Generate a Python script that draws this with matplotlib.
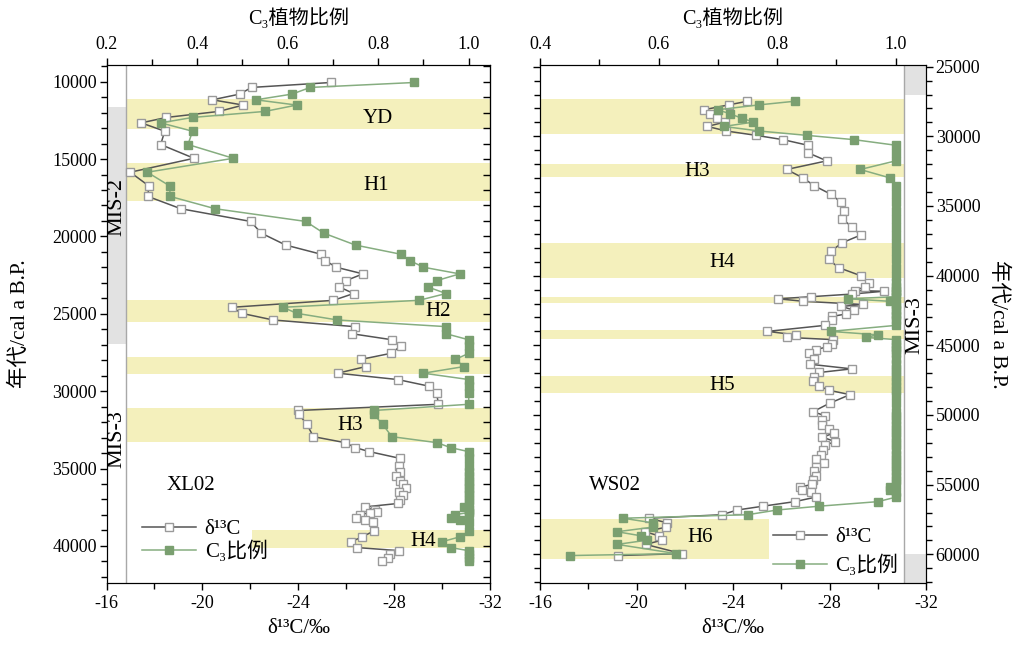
import matplotlib
matplotlib.use('Agg')
import matplotlib.pyplot as plt
from matplotlib.ticker import MultipleLocator

plt.rcParams['font.family'] = ['Liberation Serif', 'DejaVu Serif', 'Noto Sans CJK SC']
plt.rcParams['axes.unicode_minus'] = False

# ---------------- XL02 ----------------
xl_age = [10050, 10370, 10800, 11170, 11510, 11920, 12310, 12660, 13200, 14060,
          14950, 15850, 16740, 17410, 18210, 19030, 19790, 20560, 21150, 21560,
          21990, 22420, 22850, 23270, 23690, 24130, 24580, 24970, 25400, 25830,
          26290, 26680, 27110, 27560, 27950, 28410, 28840, 29250, 29680, 30110,
          30850, 31250, 31490, 32140, 32940, 33330, 33650, 33910, 34350, 34840,
          35250, 35510, 35810, 36030, 36240, 36500, 36720, 37040, 37260, 37480,
          37690, 37800, 37850, 37980, 38230, 38340, 38450, 39050, 39420, 39740,
          40110, 40310, 40540, 40780, 40990]
xl_d13c = [-25.37, -22.05, -21.56, -20.42, -21.70, -20.69, -18.50, -17.45, -18.43, -18.26,
           -19.65, -16.99, -17.77, -17.72, -19.10, -22.01, -22.46, -23.48, -24.95, -25.13,
           -25.58, -26.70, -26.00, -25.72, -26.31, -25.47, -21.24, -21.64, -22.95, -26.35,
           -26.24, -27.92, -28.27, -27.85, -26.61, -26.82, -25.65, -28.15, -29.46, -29.77,
           -29.85, -24.00, -24.02, -24.36, -24.63, -25.96, -26.38, -26.97, -28.26, -28.20,
           -28.23, -28.06, -28.23, -28.37, -28.48, -28.19, -28.37, -28.23, -28.16, -26.79,
           -27.21, -27.28, -27.00, -26.59, -26.42, -26.77, -27.12, -27.14, -26.66, -26.20,
           -26.45, -28.22, -27.81, -27.76, -27.49]
xl_c3 = [0.88, 0.65, 0.61, 0.53, 0.62, 0.55, 0.39, 0.32, 0.39, 0.38,
         0.48, 0.29, 0.34, 0.34, 0.44, 0.64, 0.68, 0.75, 0.85, 0.87,
         0.90, 0.98, 0.93, 0.91, 0.95, 0.89, 0.59, 0.62, 0.71, 0.95,
         0.95, 1.00, 1.00, 1.00, 0.97, 0.99, 0.90, 1.00, 1.00, 1.00,
         1.00, 0.79, 0.79, 0.81, 0.83, 0.93, 0.96, 1.00, 1.00, 1.00,
         1.00, 1.00, 1.00, 1.00, 1.00, 1.00, 1.00, 1.00, 1.00, 0.99,
         1.00, 1.00, 1.00, 0.97, 0.96, 0.98, 1.00, 1.00, 0.98, 0.94,
         0.96, 1.00, 1.00, 1.00, 1.00]
# events: (start, end, label, label_x, label_y, band_left)
xl_events = [(11120, 13060, 'YD', -27.3, 12350, -16.83),
             (15270, 17690, 'H1', -27.25, 16680, -16.83),
             (24110, 25510, 'H2', -29.85, 24880, -16.83),
             (27780, 28900, '', 0, 0, -16.83),
             (31110, 33270, 'H3', -26.15, 32250, -16.83),
             (38980, 40120, 'H4', -29.2, 39750, -22.07)]
xl_mis2 = (11640, 26960)

# ---------------- WS02 ----------------
ws_age = [27480, 27740, 28090, 28380, 28690, 28980, 29290, 29620, 29930, 30240,
          30640, 31190, 31760, 32380, 32980, 33550, 34160, 34740, 35340, 35930,
          36500, 37090, 37640, 38240, 38840, 39430, 40020, 40520, 40810, 41070,
          41120, 41320, 41510, 41660, 41840, 42070, 42210, 42470, 42750, 42930,
          43200, 43570, 44000, 44250, 44430, 44590, 44880, 45120, 45310, 45540,
          45960, 46360, 46690, 46950, 47290, 47570, 47930, 48230, 48540, 49160,
          49770, 50050, 50340, 50690, 51000, 51300, 51590, 51910, 52190, 52480,
          52840, 53140, 53430, 53740, 54040, 54360, 54690, 54980, 55170, 55410,
          55560, 55900, 56220, 56550, 56820, 57160, 57410, 57740, 58050, 58380,
          58670, 58990, 59290, 59950, 60090]
ws_d13c = [-24.60, -23.83, -22.80, -23.05, -23.35, -23.65, -22.94, -23.73, -24.96, -26.08,
           -27.10, -27.12, -27.89, -26.22, -26.90, -27.37, -28.06, -28.48, -28.60, -28.53,
           -28.93, -29.29, -28.52, -28.07, -27.96, -28.39, -29.32, -29.65, -29.46, -29.05,
           -30.24, -28.94, -27.24, -25.87, -26.92, -29.39, -28.49, -29.01, -28.70, -28.09,
           -28.09, -27.80, -25.43, -26.60, -26.23, -28.14, -28.10, -27.89, -27.42, -27.17,
           -27.37, -27.20, -28.92, -27.58, -27.34, -27.31, -27.58, -27.99, -28.85, -28.00,
           -27.31, -27.82, -27.70, -27.67, -27.98, -28.19, -27.70, -28.23, -27.80, -27.71,
           -27.66, -27.44, -27.78, -27.46, -27.35, -27.44, -27.31, -27.28, -26.79, -26.87,
           -27.22, -27.42, -26.56, -25.23, -24.18, -23.53, -20.52, -21.26, -21.23, -20.35,
           -20.92, -21.05, -20.38, -21.87, -19.24]
ws_c3 = [0.83, 0.77, 0.70, 0.72, 0.74, 0.76, 0.71, 0.77, 0.85, 0.93,
         1.00, 1.00, 1.00, 0.94, 0.99, 1.00, 1.00, 1.00, 1.00, 1.00,
         1.00, 1.00, 1.00, 1.00, 1.00, 1.00, 1.00, 1.00, 1.00, 1.00,
         1.00, 1.00, 1.00, 0.92, 0.99, 1.00, 1.00, 1.00, 1.00, 1.00,
         1.00, 1.00, 0.89, 0.97, 0.95, 1.00, 1.00, 1.00, 1.00, 1.00,
         1.00, 1.00, 1.00, 1.00, 1.00, 1.00, 1.00, 1.00, 1.00, 1.00,
         1.00, 1.00, 1.00, 1.00, 1.00, 1.00, 1.00, 1.00, 1.00, 1.00,
         1.00, 1.00, 1.00, 1.00, 1.00, 1.00, 1.00, 1.00, 0.99, 0.99,
         1.00, 1.00, 0.97, 0.87, 0.80, 0.75, 0.54, 0.59, 0.59, 0.53,
         0.57, 0.58, 0.53, 0.63, 0.45]
ws_events = [(27340, 29830, '', 0, 0, -31.1),
             (31980, 32900, 'H3', -22.5, 32560, -31.1),
             (37680, 40150, 'H4', -23.55, 39020, -31.1),
             (41510, 41940, '', 0, 0, -31.1),
             (43900, 44530, '', 0, 0, -31.1),
             (47180, 48450, 'H5', -23.55, 47850, -31.1),
             (57470, 60360, 'H6', -22.65, 58830, -25.49)]
ws_mis_gray = [(24000, 27000), (60000, 63000)]

YELLOW = '#f4f0bc'
GRAY = '#e2e2e2'
DARK = '#555555'
GREEN_L = '#86ad80'
GREEN_M = '#7a9f70'
FS = 13


def add_series(ax, axt, age, d13c, c3):
    ax.plot(d13c, age, '-s', color=DARK, lw=1.1, mfc='white', mec='#9a9a9a',
            mew=1.0, ms=5.8, label='δ¹³C', zorder=3)
    axt.plot(c3, age, '-s', color=GREEN_L, lw=1.1, mfc=GREEN_M, mec=GREEN_M,
             ms=5.2, label='C₃比例', zorder=2)


def style(ax, axt):
    ax.xaxis.set_major_locator(MultipleLocator(4))
    ax.xaxis.set_minor_locator(MultipleLocator(2))
    ax.yaxis.set_major_locator(MultipleLocator(5000))
    ax.yaxis.set_minor_locator(MultipleLocator(1000))
    axt.xaxis.set_major_locator(MultipleLocator(0.2))
    axt.xaxis.set_minor_locator(MultipleLocator(0.1))
    axt.xaxis.set_major_formatter(plt.FormatStrFormatter('%.1f'))
    for a in (ax, axt):
        a.tick_params(which='major', direction='out', length=5, width=1, labelsize=FS)
        a.tick_params(which='minor', direction='out', length=4, width=1)
    ax.tick_params(axis='y', pad=2)
    ax.set_xlabel('δ¹³C/‰', fontsize=15, labelpad=5)
    axt.set_xlabel('C₃植物比例', fontsize=14.5, labelpad=9)


fig = plt.figure(figsize=(10.22, 6.46), dpi=100)

# left panel
ax1 = fig.add_axes([106.5 / 1022, 63 / 646, 383.5 / 1022, 518 / 646])
ax1.set_xlim(-16, -32)
ax1.set_ylim(42400, 8920)
ax1.fill_betweenx(xl_mis2, -16, -16.83, color=GRAY, lw=0, zorder=0)
ax1.axvline(-16.83, color='#a8a8a8', lw=1, zorder=1)
for y0, y1, lab, lx, ly, x0 in xl_events:
    ax1.fill_betweenx([y0, y1], x0, -32, color=YELLOW, lw=0, zorder=0)
    if lab:
        ax1.text(lx, ly, lab, ha='center', va='center', fontsize=15, zorder=5)
ax1.text(-16.45, 18100, 'MIS-2', rotation=90, ha='center', va='center', fontsize=16)
ax1.text(-16.45, 33100, 'MIS-3', rotation=90, ha='center', va='center', fontsize=16)
ax1.text(-19.5, 36130, 'XL02', ha='center', va='center', fontsize=15)
ax1t = ax1.twiny()
ax1t.set_xlim(0.2, 1.047)
add_series(ax1, ax1t, xl_age, xl_d13c, xl_c3)
style(ax1, ax1t)
ax1.set_ylabel('年代/cal a B.P.', fontsize=15.5, labelpad=16)
sec = ax1.secondary_yaxis('right')
sec.yaxis.set_major_locator(MultipleLocator(5000))
sec.yaxis.set_minor_locator(MultipleLocator(1000))
sec.tick_params(which='both', direction='in', labelright=False, length=5, width=1)
h1, l1 = ax1.get_legend_handles_labels()
h2, l2 = ax1t.get_legend_handles_labels()
ax1t.legend(h1 + h2, l1 + l2, loc='upper left', bbox_to_anchor=(0.055, 0.15),
            frameon=False, fontsize=15, handlelength=2.6, labelspacing=0.05,
            handletextpad=0.4, borderpad=0.2)

# right panel
ax2 = fig.add_axes([540 / 1022, 63 / 646, 386 / 1022, 518 / 646])
ax2.set_xlim(-16, -32)
ax2.set_ylim(62060, 24880)
for y0, y1 in ws_mis_gray:
    ax2.fill_betweenx([y0, y1], -31.1, -32, color=GRAY, lw=0, zorder=0)
ax2.axvline(-31.1, color='#a8a8a8', lw=1, zorder=1)
for y0, y1, lab, lx, ly, x0 in ws_events:
    ax2.fill_betweenx([y0, y1], -16, x0, color=YELLOW, lw=0, zorder=0)
    if lab:
        ax2.text(lx, ly, lab, ha='center', va='center', fontsize=15, zorder=5)
ax2.text(-31.55, 43540, 'MIS-3', rotation=90, ha='center', va='center', fontsize=16)
ax2.text(-19.1, 55090, 'WS02', ha='center', va='center', fontsize=15)
ax2t = ax2.twiny()
ax2t.set_xlim(0.4, 1.051)
add_series(ax2, ax2t, ws_age, ws_d13c, ws_c3)
style(ax2, ax2t)
ax2.yaxis.tick_right()
ax2.tick_params(axis='y', which='both', left=True, right=True, labelleft=False, labelright=True)
ax2.yaxis.set_label_position('right')
ax2.set_ylabel('年代/cal a B.P.', fontsize=15.5, rotation=270, labelpad=20)
h1, l1 = ax2.get_legend_handles_labels()
h2, l2 = ax2t.get_legend_handles_labels()
ax2t.legend(h1 + h2, l1 + l2, loc='upper left', bbox_to_anchor=(0.565, 0.135),
            frameon=False, fontsize=15, handlelength=2.6, labelspacing=0.35,
            handletextpad=0.4, borderpad=0.2)

fig.savefig('out.png', dpi=100)
